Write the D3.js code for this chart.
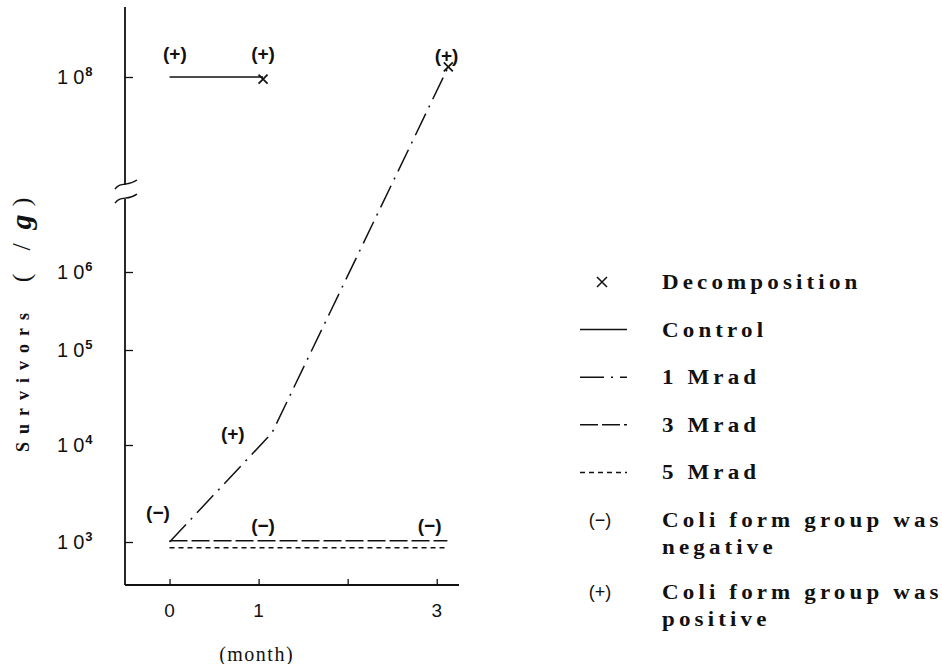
<!DOCTYPE html>
<html>
<head>
<meta charset="utf-8">
<script src="https://cdn.jsdelivr.net/npm/d3@7"></script>
<style>
  html, body { margin: 0; padding: 0; background: #fff; }
  svg { display: block; }
</style>
</head>
<body>
<svg id="chart" width="942" height="664"></svg>
<script>
// ---------- data ----------
const xTickValues = [0, 1, 2, 3];
const xTickLabels = ["0", "1", "", "3"];
const yTickValues = [1e3, 1e4, 1e5, 1e6, 1e8];
const yTickExponents = ["3", "4", "5", "6", "8"];

const controlMonths = [0, 1.05];
const controlValues = [1e8, 1e8];
const mrad1Months = [0, 1.15, 3.13];
const mrad1Values = [1e3, 1.34e4, 1.27e8];
const mrad3Months = [0, 3.12];
const mrad3Values = [1.03e3, 1.03e3];
const mrad5Months = [0, 3.12];
const mrad5Values = [870, 870];

const decompositionMonths = [1.05, 3.13];
const decompositionValues = [0.95e8, 1.27e8];

const signTexts = ["(+)", "(+)", "(+)", "(+)", "(−)", "(−)", "(−)"];
const signMonths = [0.06, 1.05, 3.11, 0.71, -0.13, 1.05, 2.92];
const signValues = [1.76e8, 1.76e8, 1.68e8, 1.34e4, 2.04e3, 1.5e3, 1.5e3];

const legendLabels = ["Decomposition", "Control", "1 Mrad", "3 Mrad", "5 Mrad",
  ["Coli form group was", "negative"], ["Coli form group was", "positive"]];
const legendKinds = ["cross", "control", "mrad1", "mrad3", "mrad5", "(−)", "(+)"];

const yTitleMain = "Survivors";
const yTitleUnitParts = ["(", "/", "g", ")"];

// ---------- scales ----------
const svg = d3.select("#chart");
const xMin = -0.5, xMax = 3.25;
const x = d3.scaleLinear().domain([xMin, xMax]).range([125, 459]);
const yMin = 360, yMax = 5.2e8;
const breakLow = 5.6e6, breakHigh = 7.8e6;
const y = d3.scaleLog()
  .domain([yMin, 1e3, 1e4, 1e5, 1e6, 1e8, yMax])
  .range([585, 542, 445, 350, 272, 77, 7]);

const dashes = {
  control: null,
  mrad1: "24,7,2,7",
  mrad3: "18,4",
  mrad5: "5,4"
};

const ink = "#111";

// ---------- axes ----------
const axisG = svg.append("g").attr("stroke", ink).attr("stroke-width", 1.8).attr("fill", "none");
const axisX = x(xMin);
axisG.append("line").attr("x1", axisX).attr("x2", axisX).attr("y1", y(yMin)).attr("y2", y(breakLow));
axisG.append("line").attr("x1", axisX).attr("x2", axisX).attr("y1", y(breakHigh)).attr("y2", y(yMax));
axisG.append("line").attr("x1", axisX).attr("x2", x(xMax)).attr("y1", y(yMin)).attr("y2", y(yMin));

// break marks
[breakLow, breakHigh].forEach(v => {
  const yy = y(v);
  axisG.append("path")
    .attr("stroke-width", 1.4)
    .attr("d", `M${axisX - 10},${yy + 4} C${axisX - 4},${yy - 4} ${axisX + 2},${yy + 2} ${axisX + 12},${yy - 5}`);
});

// y tick marks (inside, to the right)
const yAxis = d3.axisLeft(y).tickValues(yTickValues).tickSize(-8).tickFormat("");
const yAxisG = svg.append("g").attr("transform", `translate(${axisX},0)`).call(yAxis);
yAxisG.select(".domain").remove();
yAxisG.selectAll(".tick line").attr("stroke", ink).attr("stroke-width", 1.3);

// y tick labels with superscripts
const yLab = svg.append("g")
  .attr("font-family", "'Liberation Sans', Arial, sans-serif")
  .attr("fill", ink);
yTickValues.forEach((v, i) => {
  const t = yLab.append("text")
    .attr("x", 57).attr("y", y(v) + 7)
    .attr("font-size", 20);
  t.append("tspan").text("1").attr("letter-spacing", 5);
  t.append("tspan").text("0");
  t.append("tspan").text(yTickExponents[i]).attr("font-size", 13).attr("font-weight", "bold").attr("dy", -8).attr("dx", 1);
});

// x ticks (inside, upward)
const xAxis = d3.axisBottom(x).tickValues(xTickValues).tickSize(-6).tickFormat("");
const xAxisG = svg.append("g").attr("transform", `translate(0,${y(yMin)})`).call(xAxis);
xAxisG.select(".domain").remove();
xAxisG.selectAll(".tick line").attr("stroke", ink).attr("stroke-width", 1.3);

svg.append("g")
  .attr("font-family", "'Liberation Sans', Arial, sans-serif")
  .attr("font-size", 19).attr("fill", ink).attr("text-anchor", "middle")
  .selectAll("text").data(xTickValues).join("text")
  .attr("x", d => x(d)).attr("y", 617)
  .text((d, i) => xTickLabels[i]);

svg.append("text")
  .attr("x", x(1) - 2).attr("y", 661)
  .attr("text-anchor", "middle")
  .attr("font-family", "'Liberation Serif', serif")
  .attr("font-size", 20).attr("letter-spacing", 1.5).attr("fill", ink)
  .text("(month)");

// y axis title
svg.append("text")
  .attr("transform", "translate(29,452) rotate(-90)")
  .attr("text-anchor", "start")
  .attr("font-family", "'Liberation Serif', serif").attr("font-weight", "bold")
  .attr("font-size", 18).attr("letter-spacing", 8).attr("fill", ink)
  .text(yTitleMain);
const unitY = [278, 247, 222, 202];
yTitleUnitParts.forEach((p, i) => {
  svg.append("text")
    .attr("transform", `translate(${p === "g" ? 31 : 30},${unitY[i]}) rotate(-90)`)
    .attr("text-anchor", "middle")
    .attr("font-family", "'Liberation Serif', serif")
    .attr("font-size", p === "g" ? 30 : 26)
    .attr("font-style", p === "g" ? "italic" : "normal")
    .attr("font-weight", p === "g" ? "bold" : "normal")
    .attr("fill", ink)
    .text(p);
});

// ---------- lines ----------
const line = d3.line().x(d => x(d[0])).y(d => y(d[1]));
const series = [
  { m: controlMonths, v: controlValues, k: "control" },
  { m: mrad1Months, v: mrad1Values, k: "mrad1" },
  { m: mrad3Months, v: mrad3Values, k: "mrad3" },
  { m: mrad5Months, v: mrad5Values, k: "mrad5" }
];
svg.append("g").attr("fill", "none").attr("stroke", ink)
  .selectAll("path").data(series).join("path")
  .attr("stroke-width", 1.5)
  .attr("stroke-dasharray", d => dashes[d.k])
  .attr("d", d => line(d.m.map((mm, i) => [mm, d.v[i]])));

// decomposition crosses
function crossPath(cx, cy, r) {
  return `M${cx - r},${cy - r}L${cx + r},${cy + r}M${cx - r},${cy + r}L${cx + r},${cy - r}`;
}
svg.append("g").attr("stroke", ink).attr("stroke-width", 1.7).attr("fill", "none")
  .selectAll("path").data(decompositionMonths).join("path")
  .attr("d", (d, i) => crossPath(x(d), y(decompositionValues[i]), 4.5));

// sign annotations
svg.append("g")
  .attr("font-family", "'Liberation Sans', Arial, sans-serif")
  .attr("font-size", 19).attr("font-weight", "bold").attr("fill", ink).attr("text-anchor", "middle")
  .selectAll("text").data(signTexts).join("text")
  .attr("x", (d, i) => x(signMonths[i]))
  .attr("y", (d, i) => y(signValues[i]) + 7)
  .text(d => d);

// ---------- legend ----------
const legend = svg.append("g");
const lgX0 = 580, lgX1 = 627, lgText = 662;
let ly = 282;
legendLabels.forEach((lab, i) => {
  const k = legendKinds[i];
  const g = legend.append("g");
  if (k === "cross") {
    g.append("path").attr("d", crossPath(602, ly, 5)).attr("stroke", ink).attr("stroke-width", 1.5);
  } else if (k.startsWith("(")) {
    g.append("text").attr("x", 600).attr("y", ly + 6).attr("text-anchor", "middle")
      .attr("font-family", "'Liberation Sans', Arial, sans-serif").attr("font-size", 18)
      .attr("fill", ink).text(k);
  } else {
    g.append("line").attr("x1", lgX0).attr("x2", lgX1).attr("y1", ly).attr("y2", ly)
      .attr("stroke", ink).attr("stroke-width", 1.5).attr("stroke-dasharray", dashes[k]);
  }
  const lines = Array.isArray(lab) ? lab : [lab];
  lines.forEach((t, j) => {
    g.append("text")
      .attr("transform", `translate(${lgText},${ly + 7 + j * 27}) scale(1.15,1)`)
      .attr("font-family", "'Liberation Serif', serif").attr("font-weight", "bold")
      .attr("font-size", 20).attr("letter-spacing", 3.6).attr("fill", ink)
      .text(t);
  });
  ly += lines.length > 1 ? 72 : 47.6;
});
</script>
</body>
</html>
